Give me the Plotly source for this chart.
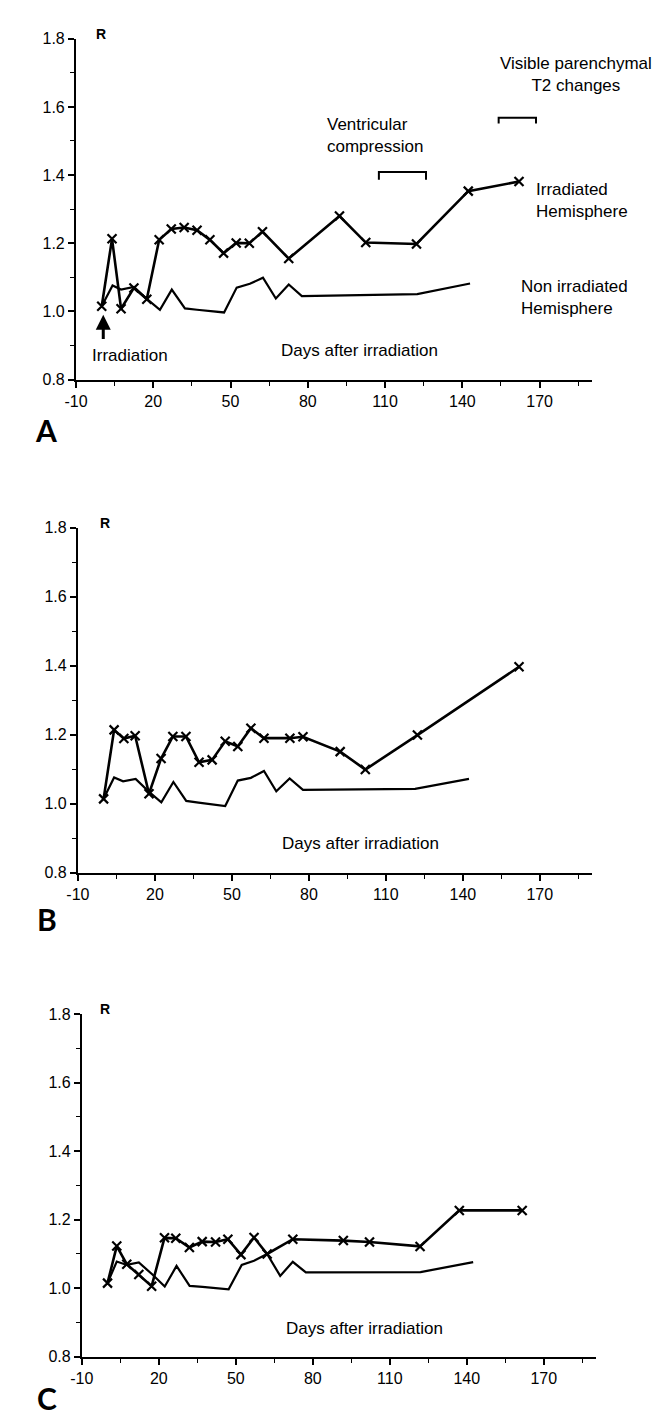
import plotly.graph_objects as go

W, H = 661, 1425

# ---------------- data ----------------
# Panel A
A_irr_days = [0, 4, 7.5, 12.5, 17.5, 22.3, 27, 32, 37, 42, 47.3, 52.2, 57.3, 62.4, 72.6, 92.3, 102.5, 122.2, 142.3, 162]
A_irr_R = [1.015, 1.213, 1.008, 1.069, 1.036, 1.21, 1.242, 1.246, 1.238, 1.21, 1.171, 1.201, 1.2, 1.234, 1.155, 1.28, 1.202, 1.198, 1.353, 1.381]
A_non_days = [0, 4.2, 7.5, 12.5, 17.5, 22.6, 27.2, 32.3, 37, 47.5, 52.4, 57.5, 62.6, 67.6, 72.6, 77.7, 122.5, 143]
A_non_R = [1.015, 1.076, 1.064, 1.072, 1.037, 1.005, 1.064, 1.009, 1.005, 0.997, 1.07, 1.081, 1.099, 1.038, 1.079, 1.045, 1.051, 1.082]

# Panel B
B_irr_days = [0, 4.1, 7.9, 12.3, 17.7, 22.4, 27, 32.1, 37.2, 42.3, 47.4, 52.3, 57.4, 62.5, 72.6, 77.7, 92.2, 102, 122.3, 161.9]
B_irr_R = [1.014, 1.214, 1.189, 1.197, 1.029, 1.131, 1.195, 1.195, 1.12, 1.127, 1.181, 1.166, 1.219, 1.19, 1.19, 1.194, 1.151, 1.099, 1.199, 1.397]
B_non_days = [0, 4.1, 7.6, 12.5, 17.6, 22.5, 27.2, 32.2, 37, 47.4, 52.3, 57.4, 62.5, 67.3, 72.5, 77.7, 121.4, 142.4]
B_non_R = [1.014, 1.076, 1.065, 1.072, 1.035, 1.004, 1.063, 1.008, 1.003, 0.993, 1.067, 1.075, 1.095, 1.036, 1.073, 1.04, 1.043, 1.072]

# Panel C
C_irr_days = [0, 3.6, 7.5, 12.2, 17.2, 22.2, 26.6, 31.9, 36.9, 42.1, 46.9, 52.0, 57.1, 62.2, 72.2, 91.9, 102.1, 121.8, 137.1, 161.6]
C_irr_R = [1.015, 1.123, 1.07, 1.04, 1.006, 1.147, 1.146, 1.119, 1.136, 1.135, 1.143, 1.098, 1.148, 1.100, 1.143, 1.139, 1.135, 1.122, 1.227, 1.227]
C_non_days = [0, 3.6, 7.5, 12.2, 17.5, 22.3, 26.9, 32, 37, 47.2, 52.3, 57.1, 62.2, 67.3, 72.2, 77.3, 122, 142.5]
C_non_R = [1.015, 1.078, 1.068, 1.075, 1.04, 1.005, 1.065, 1.007, 1.004, 0.997, 1.068, 1.08, 1.10, 1.036, 1.077, 1.046, 1.047, 1.076]

# Brackets (panel A)
bracket_vent_days = [107.6, 107.6, 125.9, 125.9]
bracket_vent_R = [1.386, 1.409, 1.409, 1.386]
bracket_t2_days = [154.1, 154.1, 168.6, 168.6]
bracket_t2_R = [1.551, 1.568, 1.568, 1.551]

x_ticks = [-10, 20, 50, 80, 110, 140, 170]
x_tick_text = ["-10", "20", "50", "80", "110", "140", "170"]
x_minor = [5, 35, 65, 95, 125, 155, 185]
y_ticks = [0.8, 1.0, 1.2, 1.4, 1.6, 1.8]
y_tick_text = ["0.8", "1.0", "1.2", "1.4", "1.6", "1.8"]
y_minor = [0.9, 1.1, 1.3, 1.5, 1.7]
panel_letters = ["A", "B", "C"]

FONT = "Liberation Sans, Arial, sans-serif"

# layout positions in pixels
boxes = [(57, 583, 23, 368), (59, 583, 518, 867), (63, 587, 1010, 1357)]  # left, right, top, bottom
letter_pos = [(26, 419), (27, 914), (28, 1399)]
r_pos = [(82, 18), (87, 513), (87, 1005)]

panels = [
    (A_irr_days, A_irr_R, A_non_days, A_non_R),
    (B_irr_days, B_irr_R, B_non_days, B_non_R),
    (C_irr_days, C_irr_R, C_non_days, C_non_R),
]

fig = go.Figure()
layout = dict(
    width=W, height=H, margin=dict(l=0, r=0, t=0, b=0),
    paper_bgcolor="white", plot_bgcolor="white", showlegend=False,
    font=dict(family=FONT, color="black"),
)
annotations = []

for i, ((ix, iy, nx, ny), (l, r, t, b)) in enumerate(zip(panels, boxes)):
    s = "" if i == 0 else str(i + 1)
    xa, ya = "x" + s, "y" + s
    fig.add_trace(go.Scatter(x=nx, y=ny, mode="lines", xaxis=xa, yaxis=ya,
                             line=dict(color="black", width=2.2), cliponaxis=False))
    fig.add_trace(go.Scatter(x=ix, y=iy, mode="lines+markers", xaxis=xa, yaxis=ya,
                             line=dict(color="black", width=2.6),
                             marker=dict(symbol="x-thin", size=9, line=dict(width=2.2, color="black")),
                             cliponaxis=False))
    layout["xaxis" + s] = dict(
        domain=[l / W, r / W], range=[-10, 190.5], anchor=ya,
        tickvals=x_ticks, ticktext=x_tick_text, ticks="outside", ticklen=6, tickwidth=1.5, tickcolor="black",
        showline=True, linewidth=2, linecolor="black", showgrid=False, zeroline=False,
        tickfont=dict(size=16, family=FONT, color="black"),
        minor=dict(tickvals=x_minor, ticks="outside", ticklen=4, tickwidth=1.2, tickcolor="black", showgrid=False),
    )
    layout["yaxis" + s] = dict(
        domain=[1 - b / H, 1 - t / H], range=[0.8, 1.8], anchor=xa,
        tickvals=y_ticks, ticktext=y_tick_text, ticks="outside", ticklen=6, tickwidth=1.5, tickcolor="black",
        showline=True, linewidth=2, linecolor="black", showgrid=False, zeroline=False,
        tickfont=dict(size=16, family=FONT, color="black"),
        minor=dict(tickvals=y_minor, ticks="outside", ticklen=4, tickwidth=1.2, tickcolor="black", showgrid=False),
    )
    rx, ry = r_pos[i]
    annotations.append(dict(x=rx / W, y=1 - ry / H, xref="paper", yref="paper", text="<b>R</b>",
                            showarrow=False, xanchor="center", yanchor="middle",
                            font=dict(size=14, family=FONT)))
    annotations.append(dict(x=100, y=0.884, xref=xa, yref=ya, text="Days after irradiation",
                            showarrow=False, xanchor="center", yanchor="middle",
                            font=dict(size=17, family=FONT)))
    lx, ly = letter_pos[i]
    annotations.append(dict(x=lx / W, y=1 - ly / H, xref="paper", yref="paper", text=panel_letters[i],
                            showarrow=False, xanchor="center", yanchor="middle",
                            font=dict(size=30, family="Lato, DejaVu Sans, sans-serif", weight="bold")))

# Panel A extras
fig.add_trace(go.Scatter(x=bracket_vent_days, y=bracket_vent_R, mode="lines", xaxis="x", yaxis="y",
                         line=dict(color="black", width=2), cliponaxis=False))
fig.add_trace(go.Scatter(x=bracket_t2_days, y=bracket_t2_R, mode="lines", xaxis="x", yaxis="y",
                         line=dict(color="black", width=2), cliponaxis=False))

annotations += [
    dict(x=0.6, y=0.99, ax=0.6, ay=0.915, xref="x", yref="y", axref="x", ayref="y",
         showarrow=True, arrowhead=2, arrowsize=1, arrowwidth=3, arrowcolor="black", text=""),
    dict(x=10.8, y=0.872, xref="x", yref="y", text="Irradiation", showarrow=False,
         xanchor="center", yanchor="middle", font=dict(size=17, family=FONT)),
    dict(x=86.6, y=1.517, xref="x", yref="y", text="Ventricular<br>compression", showarrow=False,
         xanchor="left", yanchor="middle", align="left", font=dict(size=17, family=FONT)),
    dict(x=184.3, y=1.696, xref="x", yref="y", text="Visible parenchymal<br>T2 changes", showarrow=False,
         xanchor="center", yanchor="middle", align="center", font=dict(size=17, family=FONT)),
    dict(x=167.9, y=1.326, xref="x", yref="y", text="Irradiated<br>Hemisphere", showarrow=False,
         xanchor="left", yanchor="middle", align="left", font=dict(size=17, family=FONT)),
    dict(x=162.1, y=1.041, xref="x", yref="y", text="Non irradiated<br>Hemisphere", showarrow=False,
         xanchor="left", yanchor="middle", align="left", font=dict(size=17, family=FONT)),
]
layout["annotations"] = annotations
fig.update_layout(**layout)
fig.write_html("out.html")
